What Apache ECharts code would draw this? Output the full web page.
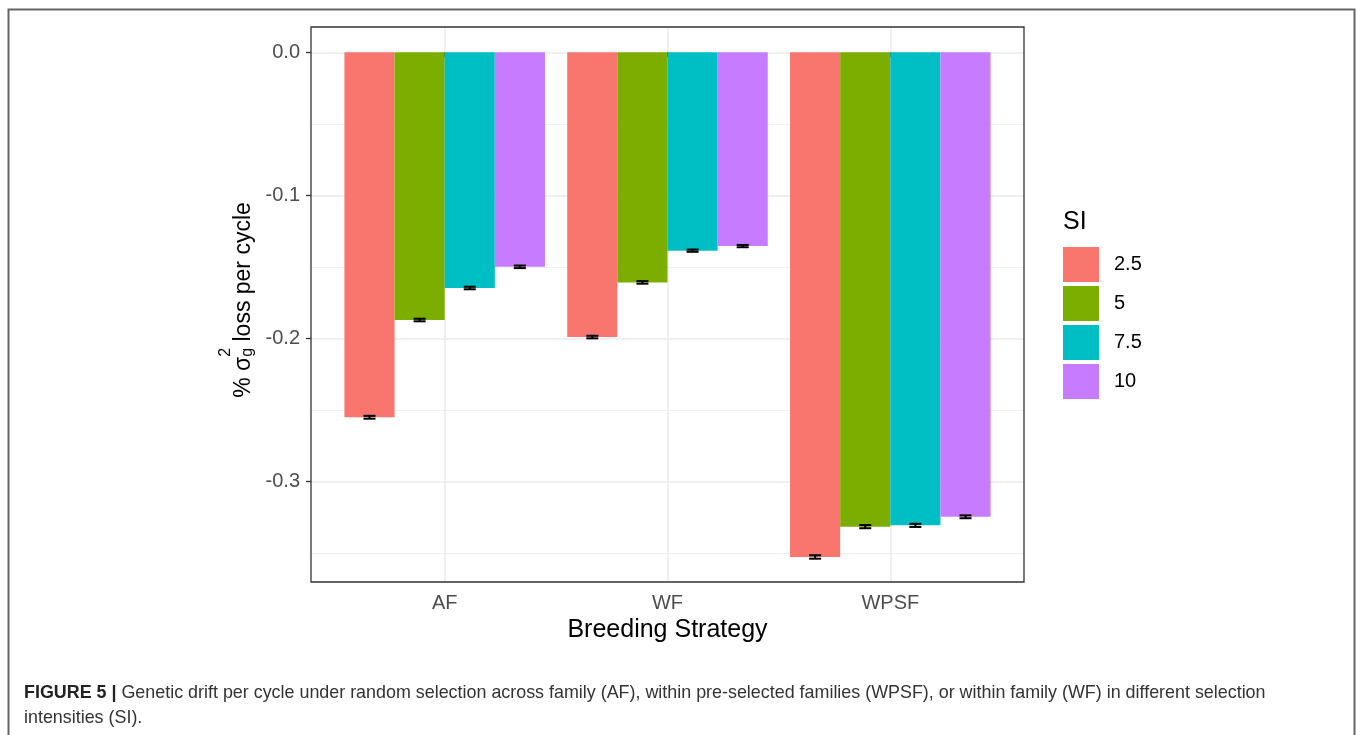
<!DOCTYPE html>
<html>
<head>
<meta charset="utf-8">
<title>Figure 5</title>
<script src="https://cdn.jsdelivr.net/npm/echarts@6/dist/echarts.min.js"></script>
<style>
  html, body { margin: 0; padding: 0; background: #fff; }
  #main { width: 1357px; height: 735px; }
</style>
</head>
<body>
<div id="main"></div>
<script>
// data
var strategies = ['AF', 'WF', 'WPSF'];
var siLevels = ['2.5', '5', '7.5', '10'];
var si25 = [-0.2552, -0.1991, -0.3529];
var si5 = [-0.1872, -0.1609, -0.3317];
var si75 = [-0.1648, -0.1387, -0.3308];
var si10 = [-0.1500, -0.1355, -0.3248];
var se25 = [0.0010, 0.0009, 0.0012];
var se5 = [0.0009, 0.0009, 0.0011];
var se75 = [0.0009, 0.0008, 0.0011];
var se10 = [0.0009, 0.0008, 0.0010];
var yTicks = [-0.3, -0.2, -0.1, 0.0];
var siColors = ['#F8766D', '#7CAE00', '#00BFC4', '#C77CFF'];

var means = [si25, si5, si75, si10];
var ses = [se25, se5, se75, se10];

// panel box (ggplot panel incl. 0.6 expansion on each side of the discrete axis)
var panel = { left: 311, top: 27, right: 1024, bottom: 582 };
var panelW = panel.right - panel.left;
var unit = panelW / (strategies.length + 0.2);
var yMin = -0.3704, yMax = 0.0177;

var chart = echarts.init(document.getElementById('main'));

function errorBarItem(k) {
  return function (params, api) {
    var c = api.value(0), m = api.value(1), se = api.value(2);
    var band = api.size([1, 0])[0];
    var bw = band * 0.9 / 4;
    var x = api.coord([c, m])[0] + (k - 1.5) * bw;
    var yHi = api.coord([c, m + se])[1];
    var yLo = api.coord([c, m - se])[1];
    var hw = bw * 0.12;
    var st = { stroke: '#000', lineWidth: 2 };
    return {
      type: 'group',
      children: [
        { type: 'line', shape: { x1: x, y1: yHi, x2: x, y2: yLo }, style: st },
        { type: 'line', shape: { x1: x - hw, y1: yHi, x2: x + hw, y2: yHi }, style: st },
        { type: 'line', shape: { x1: x - hw, y1: yLo, x2: x + hw, y2: yLo }, style: st }
      ]
    };
  };
}

var series = [];
siLevels.forEach(function (lv, k) {
  series.push({
    name: lv,
    type: 'bar',
    xAxisIndex: 0,
    yAxisIndex: 1,
    barGap: '0%',
    barCategoryGap: '10%',
    itemStyle: { color: siColors[k] },
    data: means[k]
  });
});
siLevels.forEach(function (lv, k) {
  series.push({
    name: 'se ' + lv,
    type: 'custom',
    xAxisIndex: 0,
    yAxisIndex: 1,
    z: 5,
    renderItem: errorBarItem(k),
    encode: { x: 0, y: 1 },
    data: means[k].map(function (m, i) { return [i, m, ses[k][i]]; })
  });
});

// y axis title pieces, measured so sub/superscript sit right after sigma
var ctx = document.createElement('canvas').getContext('2d');
function textW(str, size) {
  ctx.font = size + 'px "Liberation Sans", Arial, sans-serif';
  return ctx.measureText(str).width;
}
var tFont = 23, sFont = 16;
var partA = '% \u03c3', partB = ' loss per cycle';
var wA = textW(partA, tFont), wS = textW('g', sFont), wB = textW(partB, tFont);
var titleLen = wA + wS + wB;
var yTitleStart = 300 + titleLen / 2;

var option = {
  animation: false,
  textStyle: { fontFamily: '"Liberation Sans", Arial, sans-serif' },
  grid: [
    { left: panel.left, top: panel.top, width: panelW, height: panel.bottom - panel.top, containLabel: false },
    { left: panel.left + 0.1 * unit, top: panel.top, width: strategies.length * unit, height: panel.bottom - panel.top, containLabel: false }
  ],
  xAxis: [
    {
      type: 'category',
      gridIndex: 1,
      data: strategies,
      axisLine: { show: false },
      axisTick: { show: true, alignWithLabel: true, length: 5, lineStyle: { color: '#333', width: 1.3 } },
      axisLabel: { fontSize: 20, color: '#4d4d4d', margin: 11 },
      splitLine: { show: true, alignWithLabel: true, lineStyle: { color: '#ebebeb', width: 1.5 } }
    },
    { type: 'value', gridIndex: 0, show: false, min: 0, max: 1 }
  ],
  yAxis: [
    {
      type: 'value',
      gridIndex: 0,
      min: yMin,
      max: yMax,
      splitNumber: 4,
      axisLine: { show: false },
      axisTick: { show: true, length: 5, customValues: yTicks, lineStyle: { color: '#333', width: 1.3 } },
      axisLabel: {
        fontSize: 20, color: '#4d4d4d', margin: 11,
        customValues: yTicks,
        formatter: function (v) { return v.toFixed(1); }
      },
      splitLine: { show: true, lineStyle: { color: '#ebebeb', width: 1.5 } },
      minorTick: { show: false, splitNumber: 2 },
      minorSplitLine: { show: true, lineStyle: { color: '#f0f0f0', width: 1 } }
    },
    { type: 'value', gridIndex: 1, min: yMin, max: yMax, show: false }
  ],
  legend: {
    data: siLevels,
    orient: 'vertical',
    left: 1063,
    top: 247,
    padding: 0,
    itemWidth: 36,
    itemHeight: 35,
    itemGap: 4,
    icon: 'rect',
    selectedMode: false,
    textStyle: { fontSize: 20, color: '#000', padding: [0, 0, 0, 10] }
  },
  graphic: [
    {
      type: 'rect', z: 100, silent: true,
      shape: { x: panel.left, y: panel.top, width: panelW, height: panel.bottom - panel.top },
      style: { fill: 'none', stroke: '#333', lineWidth: 1.3 }
    },
    {
      type: 'rect', z: 100, silent: true,
      shape: { x: 8.5, y: 9.5, width: 1346, height: 760 },
      style: { fill: 'none', stroke: '#666', lineWidth: 2 }
    },
    {
      type: 'text', x: 1063, y: 222,
      style: { text: 'SI', fontSize: 25, fill: '#000', verticalAlign: 'middle' }
    },
    {
      type: 'text', x: (panel.left + panel.right) / 2, y: 630,
      style: { text: 'Breeding Strategy', fontSize: 25, fill: '#000', align: 'center', verticalAlign: 'middle' }
    },
    {
      type: 'group', x: 244, y: yTitleStart, rotation: Math.PI / 2,
      children: [
        { type: 'text', x: 0, y: 0, style: { text: partA, fontSize: tFont, fill: '#000', align: 'left', verticalAlign: 'middle' } },
        { type: 'text', x: wA, y: -18, style: { text: '2', fontSize: sFont, fill: '#000', align: 'left', verticalAlign: 'middle' } },
        { type: 'text', x: wA, y: 4, style: { text: 'g', fontSize: sFont, fill: '#000', align: 'left', verticalAlign: 'middle' } },
        { type: 'text', x: wA + wS, y: 0, style: { text: partB, fontSize: tFont, fill: '#000', align: 'left', verticalAlign: 'middle' } }
      ]
    },
    {
      type: 'text', x: 24, y: 693,
      style: {
        text: '{b|FIGURE 5 |} Genetic drift per cycle under random selection across family (AF), within pre-selected families (WPSF), or within family (WF) in different selection',
        fontFamily: '"Liberation Sans", sans-serif',
        fontSize: 17.9, fill: '#333', verticalAlign: 'middle',
        rich: { b: { fontWeight: 'bold', fontSize: 17.9, fill: '#222', fontFamily: '"Liberation Sans", sans-serif' } }
      }
    },
    {
      type: 'text', x: 24, y: 718,
      style: {
        text: 'intensities (SI).',
        fontFamily: '"Liberation Sans", sans-serif',
        fontSize: 17.9, fill: '#333', verticalAlign: 'middle'
      }
    }
  ],
  series: series
};

chart.setOption(option);
window.addEventListener('resize', function () { chart.resize(); });
</script>
</body>
</html>
